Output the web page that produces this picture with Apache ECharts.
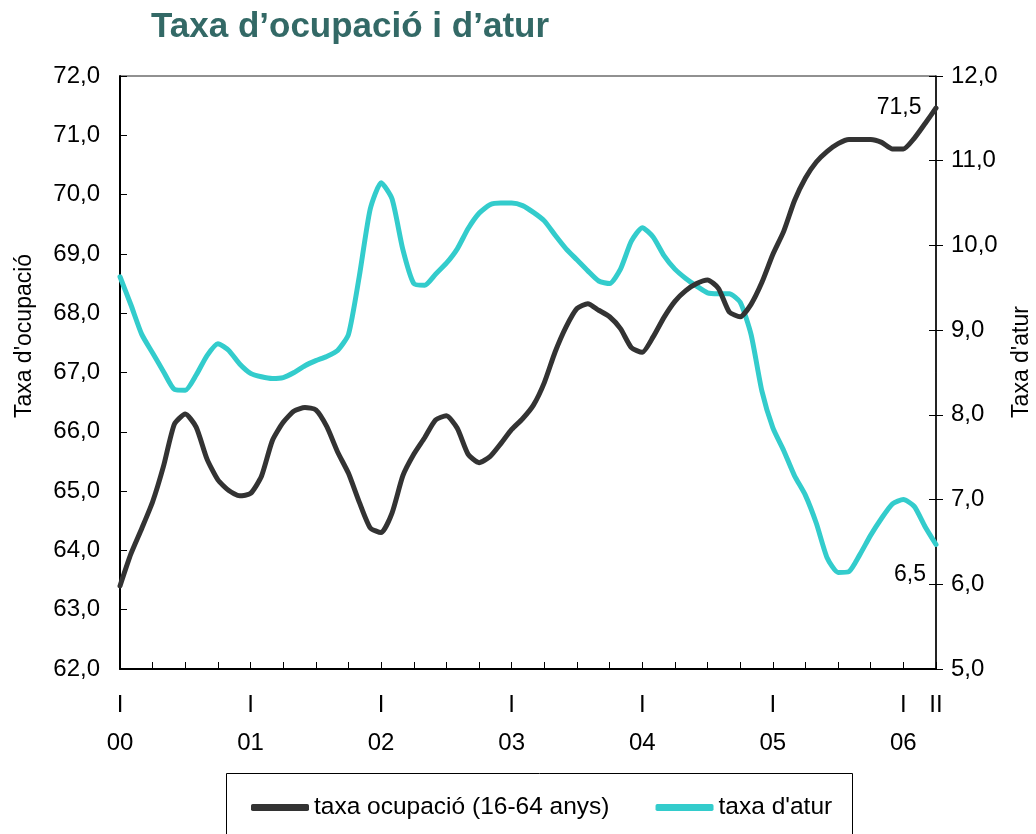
<!DOCTYPE html>
<html>
<head>
<meta charset="utf-8">
<script src="https://cdn.jsdelivr.net/npm/echarts@6/dist/echarts.min.js"></script>
<style>
  html, body { margin: 0; padding: 0; background: #fff; }
  #chart { width: 1036px; height: 834px; }
</style>
</head>
<body>
<div id="chart"></div>
<script>
// monthly points, Jan 2000 .. Apr 2006
const years = ['00', '01', '02', '03', '04', '05', '06'];
const months = [];
years.forEach(y => {
    for (let m = 1; m <= 12; m++) months.push('20' + y + '-' + (m < 10 ? '0' + m : m));
});
months.length = 76;

// tick labels under the x axis (quarter / year)
const tickLabels = {
    0: 'I\n\n00', 12: 'I\n\n01', 24: 'I\n\n02', 36: 'I\n\n03',
    48: 'I\n\n04', 60: 'I\n\n05', 72: 'I\n\n06', 75: 'II'
};

const taxaOcupacio = [
    63.40, 63.94, 64.37, 64.82, 65.42, 66.13, 66.30, 66.08, 65.54, 65.19, 65.01, 64.92,
    64.96, 65.25, 65.85, 66.16, 66.35, 66.41, 66.37, 66.09, 65.66, 65.30, 64.81, 64.38,
    64.30, 64.63, 65.26, 65.62, 65.90, 66.20, 66.27, 66.06, 65.62, 65.48, 65.58, 65.80,
    66.04, 66.22, 66.45, 66.83, 67.35, 67.77, 68.08, 68.16, 68.05, 67.94, 67.74, 67.42,
    67.34, 67.60, 67.93, 68.20, 68.38, 68.50, 68.56, 68.42, 68.02, 67.94, 68.15, 68.52,
    68.99, 69.38, 69.90, 70.28, 70.55, 70.73, 70.86, 70.93, 70.93, 70.93, 70.88, 70.77,
    70.77, 70.95, 71.20, 71.46
];

const taxaAtur = [
    9.63, 9.30, 8.95, 8.73, 8.51, 8.30, 8.29, 8.47, 8.70, 8.84, 8.76, 8.60,
    8.49, 8.45, 8.43, 8.44, 8.50, 8.58, 8.64, 8.69, 8.76, 8.95, 9.64, 10.43,
    10.74, 10.55, 9.95, 9.55, 9.53, 9.66, 9.79, 9.96, 10.20, 10.38, 10.48, 10.50,
    10.50, 10.47, 10.39, 10.29, 10.12, 9.96, 9.83, 9.70, 9.58, 9.55, 9.72, 10.05,
    10.21, 10.10, 9.88, 9.72, 9.61, 9.52, 9.44, 9.43, 9.43, 9.33, 8.95, 8.28,
    7.85, 7.58, 7.28, 7.05, 6.72, 6.31, 6.14, 6.15, 6.35, 6.58, 6.78, 6.95,
    7.00, 6.92, 6.68, 6.47
];

const FONT = "'Liberation Sans', Arial, sans-serif";
const fmt = v => Number(v).toFixed(1).replace('.', ',');
const last = months.length - 1;

const chart = echarts.init(document.getElementById('chart'));

const option = {
    animation: false,
    backgroundColor: '#fff',
    textStyle: { fontFamily: FONT },
    title: {
        text: 'Taxa d\u2019ocupació i d\u2019atur',
        left: 146, top: 5,
        textStyle: { fontFamily: FONT, fontSize: 35, fontWeight: 'bold', color: '#336966' }
    },
    grid: {
        left: 120, right: 100, top: 76, bottom: 165,
        show: true, borderColor: '#222', borderWidth: 1
    },
    legend: {
        left: 246, top: 790,
        icon: 'roundRect', itemWidth: 58, itemHeight: 7, itemGap: 46,
        textStyle: { fontFamily: FONT, fontSize: 24.5, color: '#000' },
        data: ['taxa ocupació (16-64 anys)', "taxa d'atur"]
    },
    xAxis: {
        type: 'category',
        data: months,
        boundaryGap: false,
        axisLine: { lineStyle: { color: '#000', width: 2 } },
        axisTick: {
            inside: true, length: 7,
            interval: (i) => i % 3 === 0,
            lineStyle: { color: '#000' }
        },
        axisLabel: {
            interval: 0,
            formatter: (v, i) => tickLabels[i] || '',
            fontFamily: FONT, fontSize: 24, lineHeight: 19, margin: 27, color: '#000'
        },
        splitLine: { show: false }
    },
    yAxis: [
        {
            type: 'value', position: 'left', min: 62, max: 72, interval: 1,
            axisLine: { show: true, lineStyle: { color: '#000', width: 2 } },
            axisTick: { show: true, inside: true, length: 7, lineStyle: { color: '#000' } },
            axisLabel: { formatter: fmt, fontFamily: FONT, fontSize: 24, color: '#000', margin: 20 },
            splitLine: { show: false }
        },
        {
            type: 'value', position: 'right', min: 5, max: 12, interval: 1,
            axisLine: { show: true, lineStyle: { color: '#000', width: 1.5 } },
            axisTick: { show: true, inside: false, length: 7, lineStyle: { color: '#000' } },
            axisLabel: { formatter: fmt, fontFamily: FONT, fontSize: 24, color: '#000', margin: 15 },
            splitLine: { show: false }
        },
        {
            // inner half of the crossing ticks on the right axis
            type: 'value', position: 'right', min: 5, max: 12, interval: 1,
            axisLine: { show: false },
            axisTick: { show: true, inside: true, length: 7, lineStyle: { color: '#000' } },
            axisLabel: { show: false },
            splitLine: { show: false }
        }
    ],
    series: [
        {
            name: 'taxa ocupació (16-64 anys)',
            type: 'line',
            yAxisIndex: 0,
            data: taxaOcupacio,
            showSymbol: false,
            smooth: 0.2,
            color: '#333333',
            lineStyle: { width: 5, color: '#333333', cap: 'round', join: 'round' },
            z: 3,
            markPoint: {
                symbol: 'circle', symbolSize: 1,
                itemStyle: { color: 'rgba(0,0,0,0)' },
                label: {
                    show: true, position: 'left', distance: 14,
                    formatter: p => fmt(p.value),
                    fontFamily: FONT, fontSize: 23, color: '#000'
                },
                data: [{ coord: [months[last], taxaOcupacio[last]], value: taxaOcupacio[last] }]
            }
        },
        {
            name: "taxa d'atur",
            type: 'line',
            yAxisIndex: 1,
            data: taxaAtur,
            showSymbol: false,
            smooth: 0.2,
            color: '#33CCCC',
            lineStyle: { width: 5, color: '#33CCCC', cap: 'round', join: 'round' },
            z: 2,
            markPoint: {
                symbol: 'circle', symbolSize: 1,
                itemStyle: { color: 'rgba(0,0,0,0)' },
                label: {
                    show: true, position: 'bottom', distance: 18, offset: [-26, 0],
                    formatter: p => fmt(p.value),
                    fontFamily: FONT, fontSize: 23, color: '#000'
                },
                data: [{ coord: [months[last], taxaAtur[last]], value: taxaAtur[last] }]
            }
        }
    ],
    graphic: [
        {
            type: 'text', x: 25, y: 336, rotation: Math.PI / 2,
            style: {
                text: "Taxa d'ocupació", fontFamily: FONT, fontSize: 23, fill: '#000',
                align: 'center', verticalAlign: 'middle'
            }
        },
        {
            type: 'text', x: 1022, y: 362, rotation: Math.PI / 2,
            style: {
                text: "Taxa d'atur", fontFamily: FONT, fontSize: 23, fill: '#000',
                align: 'center', verticalAlign: 'middle'
            }
        },
        {
            type: 'rect', shape: { x: 226.5, y: 773.5, width: 626, height: 100 },
            style: { fill: 'none', stroke: '#000', lineWidth: 1 }, z: -1
        }
    ]
};

chart.setOption(option);
</script>
</body>
</html>
